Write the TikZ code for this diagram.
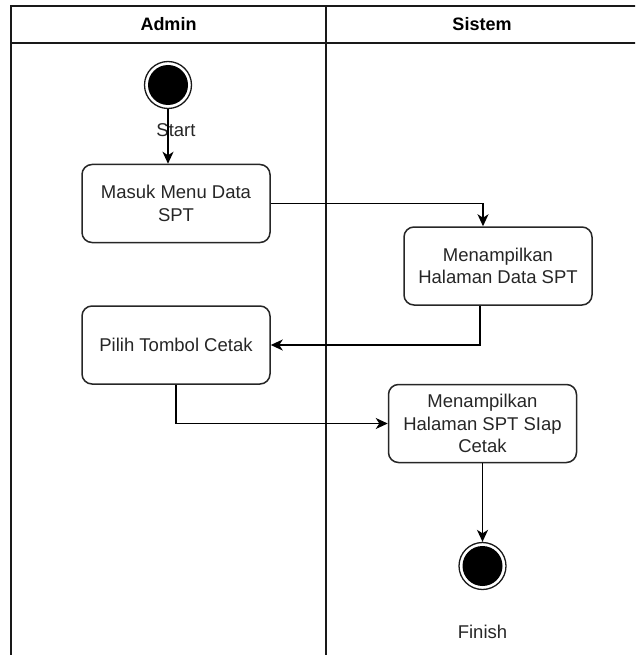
\documentclass[tikz,border=0pt]{standalone}
\usepackage{fontspec}
\setmainfont{Liberation Sans}
\usetikzlibrary{arrows.meta,calc}

\begin{document}
\begin{tikzpicture}[x=1pt,y=-1pt,
  every node/.style={font=\fontsize{18.5}{22.5}\selectfont, text=black!85},
  lane/.style={draw=black!90, line width=1.7pt},
  action/.style={draw=black!85, line width=1.5pt, rounded corners=10pt,
    minimum width=188pt, minimum height=78pt, inner sep=2pt, align=center},
  terminal/.style={circle, draw=black!90, line width=1.3pt, minimum size=47pt, inner sep=0pt,
    path picture={\fill[black] (path picture bounding box.center) circle (20pt);}},
  flow/.style={draw=black, line width=1.5pt,
    -{Stealth[length=12pt,width=11pt,inset=3.5pt]}},
  header/.style={font=\bfseries\fontsize{18}{22}\selectfont, text=black}
]
\useasboundingbox (0,0) rectangle (635,655);
\clip (0,0) rectangle (635,655);

% swimlane frame
\draw[lane] (11,6) rectangle (640,680);
\draw[lane] (11,42.7) -- (640,42.7);
\draw[lane] (326,6) -- (326,680);
\node[header] (hadmin) at (168.5,24.5) {Admin};
\node[header] (hsistem) at (482,24.5) {Sistem};

% nodes
\node[terminal] (start) at (168,85) {};
\node (startlbl) at (176,130.5) {Start};
\node[action] (masuk) at (176,203.5) {Masuk Menu Data\\SPT};
\node[action] (data) at (498,266) {Menampilkan\\Halaman Data SPT};
\node[action] (pilih) at (176,345) {Pilih Tombol Cetak};
\node[action] (siap) at (482.5,423.5) {Menampilkan\\Halaman SPT SIap\\Cetak};
\node[terminal] (finish) at (482.5,566) {};
\node (finishlbl) at (482.5,632) {Finish};

% connectors
\draw[flow] (start.south) -- (start.south |- masuk.north);
\draw[flow] (masuk.east) -| ([xshift=-15pt]data.north);
\draw[flow] ([xshift=-18pt]data.south) |- (pilih.east);
\draw[flow] (pilih.south) |- (siap.west);
\draw[flow] (siap.south) -- (finish.north);
\end{tikzpicture}
\end{document}
